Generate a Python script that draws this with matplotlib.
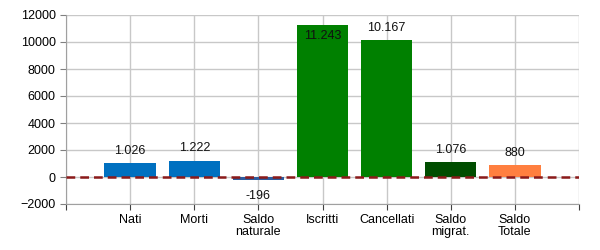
import numpy as np
import matplotlib.pyplot as plt

plt.rcParams['font.family'] = ['Liberation Sans', 'DejaVu Sans']

categories = ["Nati", "Morti", "Saldo\nnaturale", "Iscritti", "Cancellati", "Saldo\nmigrat.", "Saldo\nTotale"]
values = [1026, 1222, -196, 11243, 10167, 1076, 880]
labels = ["1.026", "1.222", "-196", "11.243", "10.167", "1.076", "880"]
colors = ["#0070c0", "#0070c0", "#2e5c9e", "#008000", "#008000", "#004d00", "#ff7f3f"]

fig = plt.figure(figsize=(6, 2.5), dpi=100)
ax = fig.add_axes([0.11, 0.184, 0.855, 0.756])

x = np.arange(len(categories))
ax.bar(x, values, width=0.8, color=colors, zorder=2)
ax.axhline(0, color="#8b1a1a", linestyle="--", linewidth=1.8, dashes=(3.5, 2), zorder=3)

for xi, v, lab in zip(x, values, labels):
    if v < 0:
        ax.text(xi, v - 750, lab, ha="center", va="top", fontsize=9, color="#111111")
    elif v > 11000:
        ax.text(xi, v - 350, lab, ha="center", va="top", fontsize=9, color="#111111")
    else:
        ax.text(xi, v + 450, lab, ha="center", va="bottom", fontsize=9, color="#111111")

ax.set_xlim(-1, 7)
ax.set_ylim(-2000, 12000)
ax.set_yticks(range(-2000, 12001, 2000))
ax.set_xticks(range(-1, 8))
ax.set_xticklabels([""] + categories + [""], fontsize=9, linespacing=1.0)
ax.tick_params(axis="y", labelsize=9, length=4, color="#808080")
ax.tick_params(axis="x", length=4, color="#404040", pad=3)
ax.grid(True, color="#c8c8c8", linewidth=1, zorder=0)
ax.set_axisbelow(True)
for s in ["top", "right"]:
    ax.spines[s].set_visible(False)
ax.spines["left"].set_color("#a0a0a0")
ax.spines["bottom"].set_color("#a0a0a0")

fig.savefig("out.png", dpi=100)
